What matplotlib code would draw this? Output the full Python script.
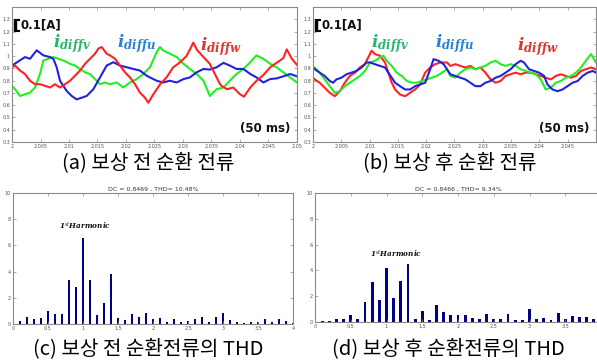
import numpy as np
import matplotlib
matplotlib.use("Agg")
import matplotlib.pyplot as plt

plt.rcParams['font.family'] = ['DejaVu Sans']
plt.rcParams['mathtext.fontset'] = 'dejavuserif'

# ---- (a) before compensation: time in ms after t = 2 s, current in A ----
a_blue_t = [0, 2.28, 3.16, 4.33, 5.50, 6.67, 7.25, 7.84, 8.42, 9.59, 10.47, 11.35, 12.22, 13.10,
            14.27, 15.44, 16.61, 17.78, 18.95, 20.12, 21.29, 22.46, 23.63, 24.2, 25.4, 26.5, 27.7,
            28.9, 30.1, 31.2, 32.4, 33.6, 34.7, 35.9, 37.1, 38.2, 39.4, 40.6, 41.8, 42.9, 44.1,
            45.3, 46.4, 47.6, 48.8, 50.0]
a_blue_v = [0.923, 0.992, 0.978, 1.047, 1.006, 0.992, 0.978, 0.909, 0.799, 0.716, 0.675, 0.647,
            0.661, 0.675, 0.730, 0.826, 0.923, 0.950, 0.923, 0.909, 0.895, 0.882, 0.840, 0.826,
            0.799, 0.785, 0.799, 0.785, 0.813, 0.826, 0.868, 0.895, 0.890, 0.909, 0.945, 0.923,
            0.895, 0.895, 0.854, 0.826, 0.785, 0.813, 0.818, 0.835, 0.854, 0.835]

a_red_t = [0, 0.53, 1.40, 2.28, 3.16, 4.04, 4.91, 5.79, 6.67, 7.54, 8.42, 9.30, 10.18, 11.05,
           11.93, 12.81, 13.68, 14.56, 15.15, 15.73, 16.61, 17.19, 18.07, 18.95, 19.82, 20.70,
           21.58, 22.46, 23.33, 23.92, 24.8, 26.0, 27.1, 28.3, 29.5, 30.6, 31.3, 31.8, 32.5,
           33.6, 34.7, 35.9, 36.6, 37.7, 38.8, 40.0, 40.7, 41.8, 42.9, 44.1, 45.3, 46.4, 47.6,
           48.2, 49.1, 50.0]
a_red_v = [0.909, 0.923, 0.882, 0.854, 0.799, 0.771, 0.771, 0.758, 0.744, 0.771, 0.744, 0.771,
           0.799, 0.840, 0.882, 0.937, 0.978, 1.019, 1.061, 1.074, 1.019, 1.006, 0.978, 0.923,
           0.868, 0.826, 0.771, 0.702, 0.661, 0.620, 0.689, 0.771, 0.826, 0.909, 0.950, 1.000,
           1.061, 1.110, 1.047, 0.992, 0.937, 0.826, 0.763, 0.730, 0.744, 0.689, 0.669, 0.744,
           0.799, 0.846, 0.909, 0.945, 0.983, 1.055, 0.978, 0.928]

a_green_t = [0, 0.53, 1.40, 2.28, 3.16, 4.04, 4.91, 5.50, 6.37, 7.25, 8.13, 9.01, 10.18, 11.05,
             11.93, 12.81, 13.68, 14.56, 15.44, 16.32, 17.19, 18.36, 19.53, 20.70, 21.87, 23.04,
             24.21, 25.38, 25.96, 26.5, 27.7, 28.9, 30.1, 31.2, 32.4, 33.6, 34.7, 35.9, 37.1,
             38.2, 39.4, 40.6, 41.8, 42.9, 44.1, 45.3, 46.4, 47.6, 48.8, 50.0]
a_green_v = [0.758, 0.730, 0.675, 0.689, 0.702, 0.744, 0.854, 0.964, 0.978, 0.992, 0.978, 0.964,
             0.937, 0.923, 0.895, 0.868, 0.854, 0.813, 0.771, 0.785, 0.771, 0.785, 0.744, 0.785,
             0.813, 0.854, 0.909, 1.033, 1.074, 1.047, 1.019, 0.992, 0.937, 0.895, 0.854, 0.799,
             0.675, 0.730, 0.744, 0.799, 0.854, 0.895, 0.950, 1.006, 0.978, 0.937, 0.909, 0.868,
             0.826, 0.785]

# ---- (b) after compensation ----
b_blue_t = [0, 0.30, 1.18, 2.07, 2.96, 3.55, 4.14, 5.03, 5.92, 6.80, 7.69, 8.58, 9.47, 10.06,
            10.95, 11.83, 12.72, 13.31, 13.91, 14.50, 15.38, 16.27, 17.16, 18.05, 18.93, 19.82,
            20.71, 21.30, 22.19, 23.08, 24.26, 25.15, 26.04, 26.92, 27.81, 28.70, 29.59, 30.47,
            31.36, 32.25, 33.14, 34.02, 34.91, 35.80, 36.69, 37.28, 38.17, 39.05, 39.94, 40.83,
            41.42, 42.31, 43.20, 44.08, 44.97, 45.86, 46.75, 47.63, 48.52, 49.41, 50.0]
b_blue_v = [0.907, 0.893, 0.865, 0.838, 0.797, 0.783, 0.810, 0.824, 0.852, 0.865, 0.879, 0.907,
            0.948, 0.948, 0.934, 0.920, 0.907, 0.865, 0.824, 0.783, 0.755, 0.728, 0.728, 0.755,
            0.769, 0.783, 0.893, 0.975, 0.962, 0.934, 0.852, 0.838, 0.824, 0.810, 0.783, 0.755,
            0.755, 0.783, 0.797, 0.824, 0.838, 0.865, 0.893, 0.934, 0.962, 0.948, 0.893, 0.879,
            0.865, 0.838, 0.769, 0.728, 0.714, 0.728, 0.755, 0.783, 0.797, 0.838, 0.865, 0.879,
            0.865]

b_red_t = [0, 0.30, 1.18, 2.07, 2.96, 3.85, 4.73, 5.62, 6.51, 7.40, 8.28, 9.17, 9.76, 10.36,
           10.95, 11.83, 12.72, 13.31, 13.91, 14.50, 15.38, 16.27, 17.16, 18.05, 18.93, 19.82,
           20.71, 21.60, 22.49, 23.67, 24.26, 25.15, 26.04, 26.92, 27.81, 28.70, 29.59, 30.47,
           31.36, 32.25, 33.14, 34.02, 34.91, 35.80, 36.69, 37.57, 38.46, 39.35, 40.24, 41.12,
           42.01, 42.90, 43.79, 44.67, 45.56, 46.45, 47.34, 48.22, 49.11, 50.0]
b_red_v = [0.824, 0.810, 0.783, 0.742, 0.701, 0.673, 0.714, 0.783, 0.838, 0.865, 0.907, 0.934,
           0.989, 1.044, 1.016, 1.003, 0.948, 0.865, 0.783, 0.728, 0.687, 0.673, 0.701, 0.728,
           0.769, 0.865, 0.907, 0.934, 0.948, 0.948, 0.920, 0.934, 0.920, 0.907, 0.920, 0.893,
           0.907, 0.865, 0.810, 0.783, 0.797, 0.838, 0.852, 0.865, 0.852, 0.865, 0.865, 0.852,
           0.838, 0.824, 0.810, 0.838, 0.852, 0.838, 0.824, 0.838, 0.879, 0.893, 0.907, 0.893]

b_green_t = [0, 0.30, 1.18, 2.07, 2.96, 3.85, 4.73, 5.62, 6.51, 7.40, 8.28, 9.17, 10.06, 10.95,
             11.83, 12.43, 13.02, 13.91, 14.79, 15.68, 16.57, 17.46, 18.34, 19.23, 20.12, 21.01,
             21.89, 22.78, 23.67, 24.26, 25.15, 26.04, 26.92, 27.81, 28.70, 29.59, 30.47, 31.36,
             32.25, 33.14, 34.02, 34.91, 35.80, 36.69, 37.57, 38.46, 39.35, 40.24, 41.12, 42.01,
             42.90, 43.79, 44.67, 45.56, 46.45, 47.34, 48.22, 49.11, 49.82, 50.0]
b_green_v = [0.893, 0.907, 0.865, 0.810, 0.755, 0.701, 0.714, 0.755, 0.783, 0.810, 0.838, 0.879,
             0.948, 0.962, 0.989, 1.003, 0.962, 0.920, 0.865, 0.838, 0.797, 0.783, 0.783, 0.797,
             0.810, 0.824, 0.838, 0.865, 0.893, 0.838, 0.824, 0.865, 0.893, 0.907, 0.893, 0.907,
             0.920, 0.948, 0.962, 0.934, 0.920, 0.934, 0.920, 0.893, 0.879, 0.865, 0.852, 0.810,
             0.728, 0.742, 0.783, 0.797, 0.824, 0.838, 0.865, 0.907, 0.962, 1.016, 0.962, 0.948]

# ---- harmonic spectra ----
harm_order = np.round(np.arange(0, 4.01, 0.1), 1)
c_mag = [10.5, 0.26, 0.56, 0.38, 0.44, 0.97, 0.80, 0.77, 3.38, 2.82, 6.54, 3.33, 0.69, 1.59,
         3.82, 0.44, 0.30, 0.77, 0.54, 0.87, 0.41, 0.49, 0.15, 0.36, 0.13, 0.23, 0.41, 0.54,
         0.18, 0.54, 0.82, 0.30, 0.15, 0.05, 0.18, 0.15, 0.38, 0.15, 0.36, 0.26, 0.08]
d_mag = [10.5, 0.10, 0.10, 0.23, 0.26, 0.57, 0.20, 1.56, 3.13, 1.72, 4.22, 1.85, 3.20, 4.50,
         0.26, 0.89, 0.15, 1.33, 0.76, 0.55, 0.55, 0.52, 0.34, 0.20, 0.62, 0.23, 0.25, 0.62,
         0.15, 0.13, 1.02, 0.26, 0.34, 0.13, 0.68, 0.23, 0.47, 0.39, 0.39, 0.23, 0.10]

captions = ["(a) 보상 전 순환 전류", "(b) 보상 후 순환 전류",
            "(c) 보상 전 순환전류의 THD", "(d) 보상 후 순환전류의 THD"]
spec_titles = ["DC = 0.8469 , THD= 10.48%", "DC = 0.8466 , THD= 9.34%"]
time_ticks = ['2', '2.005', '2.01', '2.015', '2.02', '2.025', '2.03', '2.035', '2.04', '2.045', '2.05']
freq_ticks = ['0', '0.5', '1', '1.5', '2', '2.5', '3', '3.5', '4']

W, H = 597, 363
fig = plt.figure(figsize=(W / 100, H / 100), dpi=100)


def px_axes(x0, y0, x1, y1):
    return fig.add_axes([x0 / W, 1 - y1 / H, (x1 - x0) / W, (y1 - y0) / H])


def style_axes(ax):
    for s in ax.spines.values():
        s.set_color('#8a8a8a')
        s.set_linewidth(0.8)
    ax.tick_params(direction='in', length=2, width=0.5, colors='#8a8a8a',
                   labelsize=3.5, labelcolor='#555555', pad=1.5,
                   top=True, right=True)


def time_plot(ax, lines, xlab, nlab):
    for t, v, c in lines:
        ax.plot(2 + np.array(t) / 1000, v, color=c, lw=1.5)
    ax.set_xlim(2.0, 2.05)
    ax.set_ylim(0.3, 1.4)
    ax.set_xticks(np.arange(2.0, 2.0501, 0.005))
    ax.set_xticklabels(time_ticks[:nlab] + [''] * (11 - nlab))
    ax.set_yticks(np.round(np.arange(0.3, 1.31, 0.1), 1))
    ax.set_yticklabels(['0.3', '0.4', '0.5', '0.6', '0.7', '0.8', '0.9', '1', '1.1', '1.2', '1.3'])
    style_axes(ax)
    # 0.1 A scale bar
    tr = ax.get_yaxis_transform()
    ax.plot([0.012, 0.012], [1.205, 1.295], color='black', lw=2.5, transform=tr,
            solid_capstyle='butt')
    ax.plot([0.012, 0.024], [1.205, 1.205], color='black', lw=1.5, transform=tr)
    ax.plot([0.012, 0.024], [1.295, 1.295], color='black', lw=1.5, transform=tr)
    ax.text(0.03, 1.25, '0.1[A]', transform=tr, fontsize=8.5, fontweight='bold',
            va='center', ha='left', color='#111111')
    ax.text(0.975, 0.1, '(50 ms)', transform=ax.transAxes, fontsize=8.5,
            fontweight='bold', ha='right', va='center', color='#111111')
    for (xx, yy), lab, c in zip(xlab, ['diffv', 'diffu', 'diffw'],
                                ['#2ab36a', '#2b80cf', '#e53030']):
        ax.text(xx, yy, r'$\boldsymbol{i}_{\boldsymbol{%s}}$' % lab, transform=ax.transAxes,
                fontsize=12, color=c, ha='left', va='center')


ax1 = px_axes(12, 7, 297, 142)
time_plot(ax1, [(a_green_t, a_green_v, '#22ee22'), (a_blue_t, a_blue_v, '#2222dd'),
                (a_red_t, a_red_v, '#ff2222')],
          [(0.145, 0.73), (0.37, 0.73), (0.66, 0.71)], 11)

ax2 = px_axes(313, 7, 596, 142)
time_plot(ax2, [(b_red_t, b_red_v, '#ff2222'), (b_green_t, b_green_v, '#22ee22'),
                (b_blue_t, b_blue_v, '#2222dd')],
          [(0.205, 0.73), (0.43, 0.73), (0.72, 0.71)], 10)


def spec_plot(ax, mag, title, harm_xy, nlab):
    ax.bar(harm_order, mag, width=0.04, color='#00008b')
    ax.set_xlim(0, 4.0)
    ax.set_ylim(0, 10)
    ax.set_xticks(np.arange(0, 4.01, 0.5))
    ax.set_xticklabels(freq_ticks[:nlab] + [''] * (9 - nlab))
    ax.set_yticks(range(0, 11, 2))
    style_axes(ax)
    ax.set_title(title, fontsize=4.5, color='#333333', pad=1.5)
    ax.text(harm_xy[0], harm_xy[1], r'1$^{st}$Harmonic', fontsize=5.2, family='DejaVu Serif',
            fontweight='bold', fontstyle='italic', ha='center', va='center', color='#111111')


ax3 = px_axes(13, 193, 293, 324)
spec_plot(ax3, c_mag, spec_titles[0], (1.03, 7.5), 9)

ax4 = px_axes(315, 193, 601, 322)
spec_plot(ax4, d_mag, spec_titles[1], (1.13, 5.3), 8)

kr = ['Noto Sans CJK KR', 'DejaVu Sans']
fig.text(148 / W, 1 - 163 / H, captions[0], family=kr, fontsize=14.5, ha='center', va='center')
fig.text(450 / W, 1 - 163 / H, captions[1], family=kr, fontsize=14.5, ha='center', va='center')
fig.text(148 / W, 1 - 349 / H, captions[2], family=kr, fontsize=14.5, ha='center', va='center')
fig.text(448 / W, 1 - 349 / H, captions[3], family=kr, fontsize=14.5, ha='center', va='center')

fig.savefig('out.png', dpi=100)
